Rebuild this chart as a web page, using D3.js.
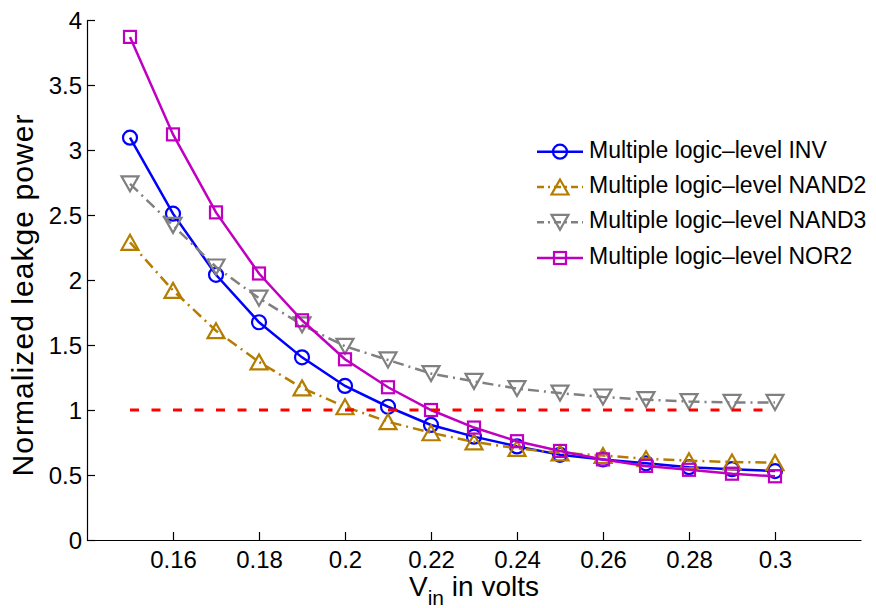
<!DOCTYPE html>
<html>
<head>
<meta charset="utf-8">
<script src="https://cdn.jsdelivr.net/npm/d3@7/dist/d3.min.js"></script>
<style>
  html, body { margin: 0; padding: 0; background: #fff; }
  svg { display: block; }
  text { font-family: "Liberation Sans", Arial, Helvetica, sans-serif; fill: #000; }
</style>
</head>
<body>
<svg id="chart" width="876" height="608"></svg>
<script>
// ---- data ----
const vin = [0.15, 0.16, 0.17, 0.18, 0.19, 0.20, 0.21, 0.22, 0.23, 0.24, 0.25, 0.26, 0.27, 0.28, 0.29, 0.30];
const invValues   = [3.095, 2.51, 2.04, 1.675, 1.405, 1.185, 1.025, 0.885, 0.795, 0.72, 0.655, 0.62, 0.59, 0.56, 0.545, 0.53];
const nand2Values = [2.29, 1.92, 1.61, 1.37, 1.17, 1.025, 0.91, 0.825, 0.755, 0.705, 0.67, 0.65, 0.625, 0.61, 0.60, 0.595];
const nand3Values = [2.74, 2.42, 2.10, 1.86, 1.655, 1.49, 1.385, 1.28, 1.22, 1.165, 1.13, 1.10, 1.08, 1.065, 1.058, 1.058];
const nor2Values  = [3.87, 3.12, 2.52, 2.05, 1.69, 1.39, 1.175, 1.0, 0.865, 0.76, 0.685, 0.62, 0.57, 0.54, 0.51, 0.49];
const referenceLevel = 1;
const seriesNames = ["Multiple logic\u2013level INV", "Multiple logic\u2013level NAND2", "Multiple logic\u2013level NAND3", "Multiple logic\u2013level NOR2"];
const xTicks = [0.16, 0.18, 0.20, 0.22, 0.24, 0.26, 0.28, 0.30];
const yTicks = [0, 0.5, 1, 1.5, 2, 2.5, 3, 3.5, 4];
const xLabelMain = "V", xLabelSub = "in", xLabelRest = " in volts";
const yLabel = "Normalized leakge power";

// ---- styles ----
const styles = [
  { values: invValues,   color: "#0000ff", dash: null,       marker: "circle" },
  { values: nand2Values, color: "#b47d00", dash: "11,5,2,5", marker: "up" },
  { values: nand3Values, color: "#808080", dash: "11,5,2,5", marker: "down" },
  { values: nor2Values,  color: "#c000c0", dash: null,       marker: "square" }
];

const svg = d3.select("#chart");
const x = d3.scaleLinear().domain([0.14, 0.32]).range([87, 861]);
const y = d3.scaleLinear().domain([0, 4]).range([540, 20]);

// axes
const xAxis = d3.axisBottom(x).tickValues(xTicks).tickSize(-8).tickSizeOuter(0).tickPadding(11)
  .tickFormat(d => String(+d.toFixed(2)));
const yAxis = d3.axisLeft(y).tickValues(yTicks).tickSize(-8).tickSizeOuter(0).tickPadding(5)
  .tickFormat(d => String(d));

const gx = svg.append("g").attr("transform", "translate(0,540)").call(xAxis);
const gy = svg.append("g").attr("transform", "translate(87,0)").call(yAxis);
[gx, gy].forEach(g => {
  g.selectAll("text").style("font-size", "24px").style("font-family", "'Liberation Sans', Arial, sans-serif").attr("fill", "#000");
  g.select(".domain").attr("stroke", "#000").attr("stroke-width", 1.2);
  g.selectAll(".tick line").attr("stroke", "#000").attr("stroke-width", 1.2);
});
gy.selectAll("text").attr("dy", "0.36em");

// marker drawing
function drawMarker(g, type, cx, cy, color) {
  if (type === "circle") {
    g.append("circle").attr("cx", cx).attr("cy", cy).attr("r", 7)
      .attr("fill", "none").attr("stroke", color).attr("stroke-width", 2.2);
  } else if (type === "square") {
    g.append("rect").attr("x", cx - 6).attr("y", cy - 6).attr("width", 12).attr("height", 12)
      .attr("fill", "none").attr("stroke", color).attr("stroke-width", 2.2);
  } else if (type === "up") {
    const w = 8.5, h = 7.5;
    g.append("path").attr("d", `M${cx},${cy - h}L${cx + w},${cy + h}L${cx - w},${cy + h}Z`)
      .attr("fill", "none").attr("stroke", color).attr("stroke-width", 2.2);
  } else if (type === "down") {
    const w = 8.5, h = 7.5;
    g.append("path").attr("d", `M${cx},${cy + h}L${cx + w},${cy - h}L${cx - w},${cy - h}Z`)
      .attr("fill", "none").attr("stroke", color).attr("stroke-width", 2.2);
  }
}

const line = d3.line().x(d => x(d[0])).y(d => y(d[1]));

styles.forEach(s => {
  const g = svg.append("g");
  const pts = vin.map((v, i) => [v, s.values[i]]);
  g.append("path").attr("d", line(pts)).attr("fill", "none").attr("stroke", s.color)
    .attr("stroke-width", 2.5).attr("stroke-dasharray", s.dash);
  pts.forEach(p => drawMarker(g, s.marker, x(p[0]), y(p[1]), s.color));
});

// reference line
svg.append("path")
  .attr("d", line([[vin[0], referenceLevel], [vin[vin.length - 1], referenceLevel]]))
  .attr("stroke", "#ff0000").attr("stroke-width", 3).attr("fill", "none")
  .attr("stroke-dasharray", "9,12.5");

// legend
const legendRowY = [151.7, 187, 222.3, 258];
styles.forEach((s, i) => {
  const g = svg.append("g");
  const ry = legendRowY[i];
  g.append("line").attr("x1", 537).attr("x2", 583).attr("y1", ry).attr("y2", ry)
    .attr("stroke", s.color).attr("stroke-width", 2.5).attr("stroke-dasharray", s.dash ? "7,4,2,4" : null);
  drawMarker(g, s.marker, 560, ry, s.color);
  g.append("text").attr("x", 589).attr("y", ry + 6).style("font-size", "23px").text(seriesNames[i]);
});

// axis labels
const xl = svg.append("text").attr("x", 474).attr("y", 596).attr("text-anchor", "middle").style("font-size", "28px");
xl.append("tspan").text(xLabelMain);
xl.append("tspan").attr("dy", 9).style("font-size", "21px").text(xLabelSub);
xl.append("tspan").attr("dy", -9).text(xLabelRest);

svg.append("text").attr("transform", "translate(33,295.5) rotate(-90)").attr("text-anchor", "middle")
  .attr("textLength", 362).attr("lengthAdjust", "spacing")
  .style("font-size", "30px").text(yLabel);
</script>
</body>
</html>
